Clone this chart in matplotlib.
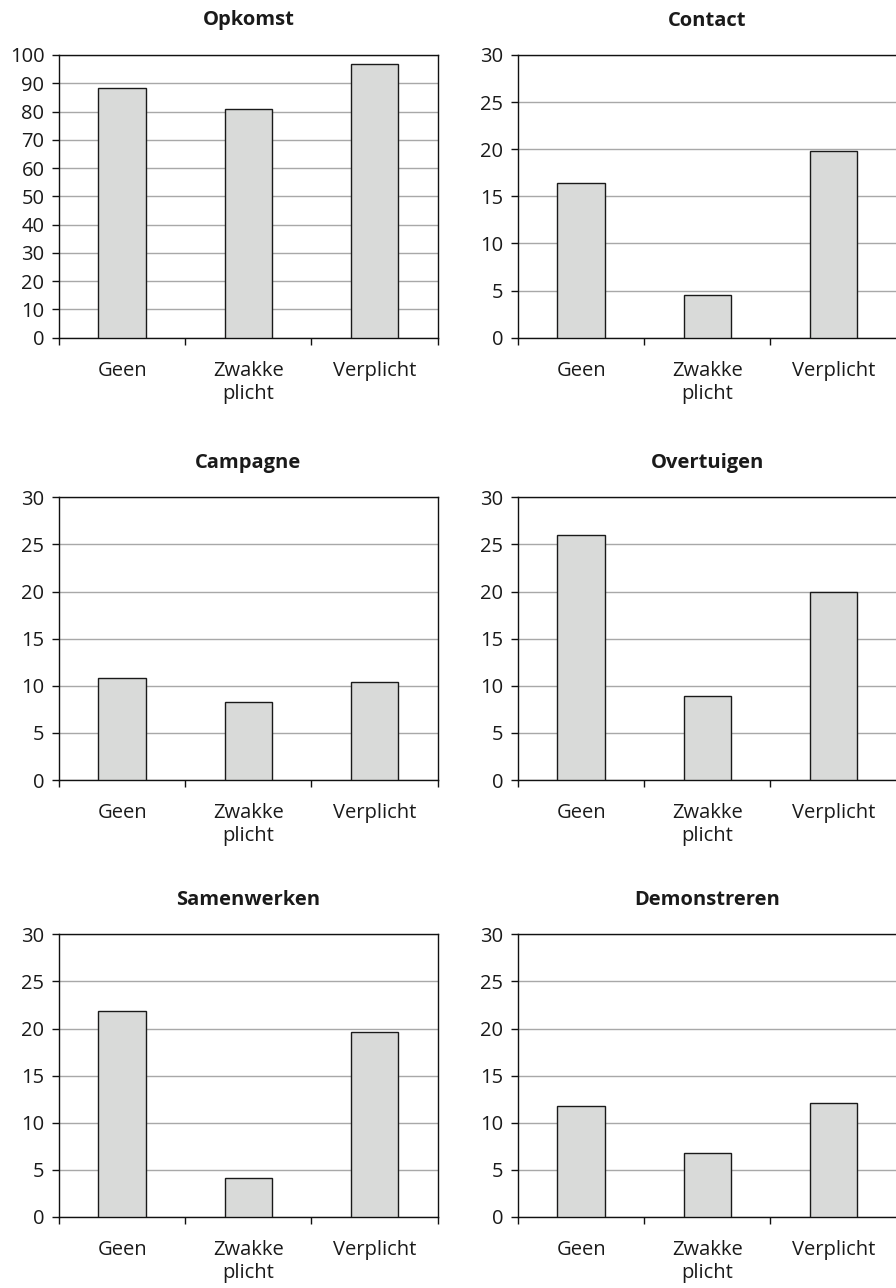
import matplotlib
matplotlib.use('Agg')
import matplotlib.pyplot as plt
from matplotlib.ticker import FixedLocator

plt.rcParams['font.family'] = ['Open Sans', 'DejaVu Sans']

# data
categories = ['Geen', 'Zwakke\nplicht', 'Verplicht']
titles = ['Opkomst', 'Contact', 'Campagne', 'Overtuigen', 'Samenwerken', 'Demonstreren']
opkomst = [88.2, 81.0, 96.7]
contact = [16.45, 4.5, 19.85]
campagne = [10.85, 8.25, 10.45]
overtuigen = [26.0, 8.9, 20.0]
samenwerken = [21.85, 4.15, 19.6]
demonstreren = [11.8, 6.8, 12.05]
series = [opkomst, contact, campagne, overtuigen, samenwerken, demonstreren]
ymaxes = [100, 30, 30, 30, 30, 30]
ysteps = [10, 5, 5, 5, 5, 5]

W, H = 896, 1288
fig = plt.figure(figsize=(W / 100, H / 100), dpi=100)

lefts = [59, 518]
width = 378.7
tops = [55, 497.3, 934.3]
height = 282.7
fs = 14.5

for i in range(6):
    row, col = divmod(i, 2)
    ax = fig.add_axes([lefts[col] / W, 1 - (tops[row] + height) / H, width / W, height / H])
    x = [0.5, 1.5, 2.5]
    ax.bar(x, series[i], width=0.377, color='#d9dad9', edgecolor='#1a1a1a',
           linewidth=1.0, zorder=3)
    ax.set_xlim(0, 3)
    ax.set_ylim(0, ymaxes[i])
    yt = list(range(0, ymaxes[i] + 1, ysteps[i]))
    ax.set_yticks(yt)
    ax.set_yticklabels([str(v) for v in yt], fontsize=fs, color='#1a1a1a')
    ax.yaxis.grid(True, color='#a8a8a8', linewidth=1.0, zorder=0)
    ax.set_axisbelow(True)
    # ticks at category boundaries, labels centred between them
    ax.xaxis.set_major_locator(FixedLocator([0, 1, 2, 3]))
    ax.xaxis.set_minor_locator(FixedLocator(x))
    ax.set_xticklabels([])
    ax.set_xticklabels(categories, minor=True, fontsize=fs, color='#1a1a1a',
                       linespacing=1.22, va='top')
    ax.tick_params(axis='x', which='major', length=5, width=1.0, color='#111111')
    ax.tick_params(axis='x', which='minor', length=0, pad=16.5)
    ax.tick_params(axis='y', length=5, width=1.0, color='#111111', pad=5.5)
    for s in ax.spines.values():
        s.set_color('#111111')
        s.set_linewidth(1.0)
    ax.text(0.5, 1 + 34.5 / height, titles[i], transform=ax.transAxes,
            ha='center', va='center', fontsize=fs, fontweight='bold',
            color='#1a1a1a')

fig.savefig('out.png', dpi=100)
